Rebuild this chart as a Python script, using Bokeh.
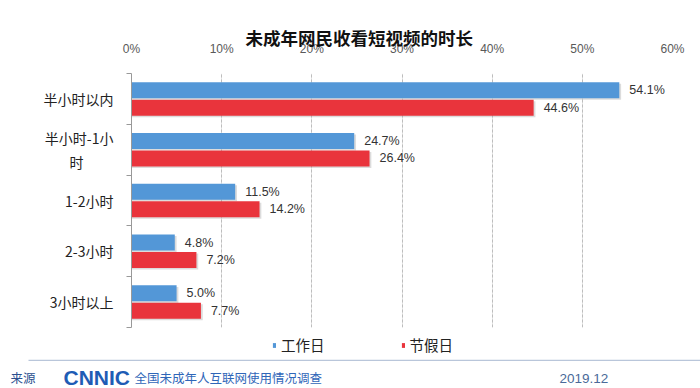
from bokeh.plotting import figure
from bokeh.models import (ColumnDataSource, FixedTicker, PrintfTickFormatter, LabelSet,
                          Label, Legend, LegendItem, BoxAnnotation, Range1d, Grid)
from bokeh.core.properties import value
from bokeh.transform import dodge
from bokeh.embed import file_html
from bokeh.resources import INLINE

# ---------------- data ----------------
# the second line of the 2nd label carries blank padding so it sits centred under line 1
categories = ["半小时以内", "半小时-1小\n时\u2800\u2800\u2800", "1-2小时", "2-3小时", "3小时以上"]
workday = [54.1, 24.7, 11.5, 4.8, 5.0]
holiday = [44.6, 26.4, 14.2, 7.2, 7.7]
series_names = ["工作日", "节假日"]
x_ticks = [0, 10, 20, 30, 40, 50, 60]
title_text = "未成年网民收看短视频的时长"
source_label = "来源"
logo_text = "CNNIC"
source_text = "全国未成年人互联网使用情况调查"
date_text = "2019.12"

BLUE = "#5397D7"
RED = "#E9343C"
CJK = "Noto Sans CJK SC"
LAT = "Liberation Sans"

n = len(categories)
centers = [n - i - 0.5 for i in range(n)]

src = ColumnDataSource(dict(
    y=centers,
    work=workday,
    hol=holiday,
    work_lbl=[f"{v:.1f}%" for v in workday],
    hol_lbl=[f"{v:.1f}%" for v in holiday],
))

W = 700
H_HEAD = 58
H_MAIN = 277
H_FOOT = 388 - H_HEAD - H_MAIN
xr = Range1d(0, 60)

# ---------------- header: title + percentage axis ----------------
h = figure(width=W, height=H_HEAD, output_backend="svg", toolbar_location=None,
           x_range=xr, y_range=(0, 1), y_axis_location=None,
           min_border_left=131, min_border_right=28, min_border_top=0, min_border_bottom=0)
h.outline_line_color = None
h.grid.visible = False
h.background_fill_color = "white"
h.border_fill_color = "white"
xa = h.xaxis[0]
xa.ticker = FixedTicker(ticks=x_ticks)
xa.formatter = PrintfTickFormatter(format="%d%%")
xa.axis_line_color = None
xa.major_tick_line_color = None
xa.minor_tick_line_color = None
xa.major_tick_out = 0
xa.major_tick_in = 0
xa.minor_tick_out = 0
xa.major_label_standoff = -6
xa.major_label_text_font = LAT
xa.major_label_text_font_size = "12px"
xa.major_label_text_color = "#595959"
h.add_layout(Label(x=114, y=10, x_units="screen", y_units="screen", text=title_text,
                   text_baseline="middle", text_font=CJK, text_font_style="bold",
                   text_font_size="17.5px", text_color="#111111"))

# ---------------- main chart ----------------
p = figure(width=W, height=H_MAIN, output_backend="svg", toolbar_location=None,
           x_range=xr, y_range=(0, n), x_axis_location=None,
           min_border_left=131, min_border_right=28, min_border_top=15, min_border_bottom=8)
p.outline_line_color = None
p.background_fill_color = "white"
p.border_fill_color = "white"

p.add_layout(Grid(dimension=0, ticker=FixedTicker(ticks=x_ticks[1:]),
                  grid_line_color="#bdbdbd", grid_line_dash="3 2", grid_line_width=1))

off = 0.172
bh = 0.315
sh = 0.03   # shadow drop (y units)
sx = 0.2    # shadow drop (x units)
# faint drop shadows
p.hbar(y=dodge("y", off - sh, range=p.y_range), right=dodge("work", sx), left=0, height=bh,
       source=src, fill_color="#9a9a9a", fill_alpha=0.35, line_color=None)
p.hbar(y=dodge("y", -off - sh, range=p.y_range), right=dodge("hol", sx), left=0, height=bh,
       source=src, fill_color="#9a9a9a", fill_alpha=0.35, line_color=None)
r_work = p.hbar(y=dodge("y", off, range=p.y_range), right="work", left=0, height=bh,
                source=src, fill_color=BLUE, line_color=None)
r_hol = p.hbar(y=dodge("y", -off, range=p.y_range), right="hol", left=0, height=bh,
               source=src, fill_color=RED, line_color=None)

lbl_style = dict(text_font_size=value("12.5px"), text_color="#333333",
                 text_baseline="middle", text_font=value(LAT), x_offset=10)
p.add_layout(LabelSet(x="work", y=dodge("y", off, range=p.y_range), text="work_lbl",
                      source=src, **lbl_style))
p.add_layout(LabelSet(x="hol", y=dodge("y", -off, range=p.y_range), text="hol_lbl",
                      source=src, **lbl_style))

# y axis (left): category names at centres, boundary ticks as minor ticks
ya = p.yaxis[0]
ya.ticker = FixedTicker(ticks=centers, minor_ticks=list(range(n + 1)))
ya.major_label_overrides = {c: lab for c, lab in zip(centers, categories)}
ya.major_tick_out = 0
ya.major_tick_in = 0
ya.minor_tick_out = 5
ya.minor_tick_in = 0
ya.minor_tick_line_color = "#999999"
ya.axis_line_color = "#999999"
ya.major_label_standoff = 13
ya.major_label_text_font = CJK
ya.major_label_text_font_size = "14px"
ya.major_label_text_color = "#222222"
p.ygrid.grid_line_color = None

# ---------------- legend + footer ----------------
f = figure(width=W, height=H_FOOT, output_backend="svg", toolbar_location=None,
           x_range=(0, W), y_range=(0, H_FOOT), min_border=0,
           x_axis_type=None, y_axis_type=None)
f.grid.visible = False
f.outline_line_color = None
f.background_fill_color = "white"
f.border_fill_color = "white"

# legend keys: same series, drawn with zero height so only the legend shows them
lw = f.hbar(y="y", right="work", left=0, height=0, source=src,
            fill_color=BLUE, line_color=None)
lh = f.hbar(y="y", right="hol", left=0, height=0, source=src,
            fill_color=RED, line_color=None)
legend = Legend(items=[LegendItem(label=series_names[0], renderers=[lw]),
                       LegendItem(label=series_names[1], renderers=[lh])],
                orientation="horizontal", location=(272, 33), padding=0, margin=0,
                spacing=76, glyph_width=4, glyph_height=6, label_standoff=5,
                label_height=16, label_text_baseline="middle",
                label_text_font=CJK, label_text_font_size="14.5px", label_text_color="#222222",
                background_fill_alpha=0, border_line_color=None)
f.add_layout(legend, "center")

f.add_layout(BoxAnnotation(left=28, right=700, bottom=27.5, top=28.7,
                           fill_color="#b9c6da", fill_alpha=1, line_color=None))
f.add_layout(Label(x=10, y=11, text=source_label, text_baseline="middle",
                   text_font=CJK, text_font_size="12.5px", text_color="#2B4F8F"))
f.add_layout(Label(x=63, y=11, text=logo_text, text_baseline="middle",
                   text_font=LAT, text_font_style="bold", text_font_size="21px",
                   text_color="#1F5CB5"))
f.add_layout(Label(x=134, y=11, text=source_text, text_baseline="middle",
                   text_font=CJK, text_font_size="12.5px", text_color="#2F66B8"))
f.add_layout(Label(x=559, y=10, text=date_text, text_baseline="middle",
                   text_font=LAT, text_font_size="13.5px", text_color="#4A6A99"))

open("out.html", "w").write(file_html([h, p, f], INLINE))
